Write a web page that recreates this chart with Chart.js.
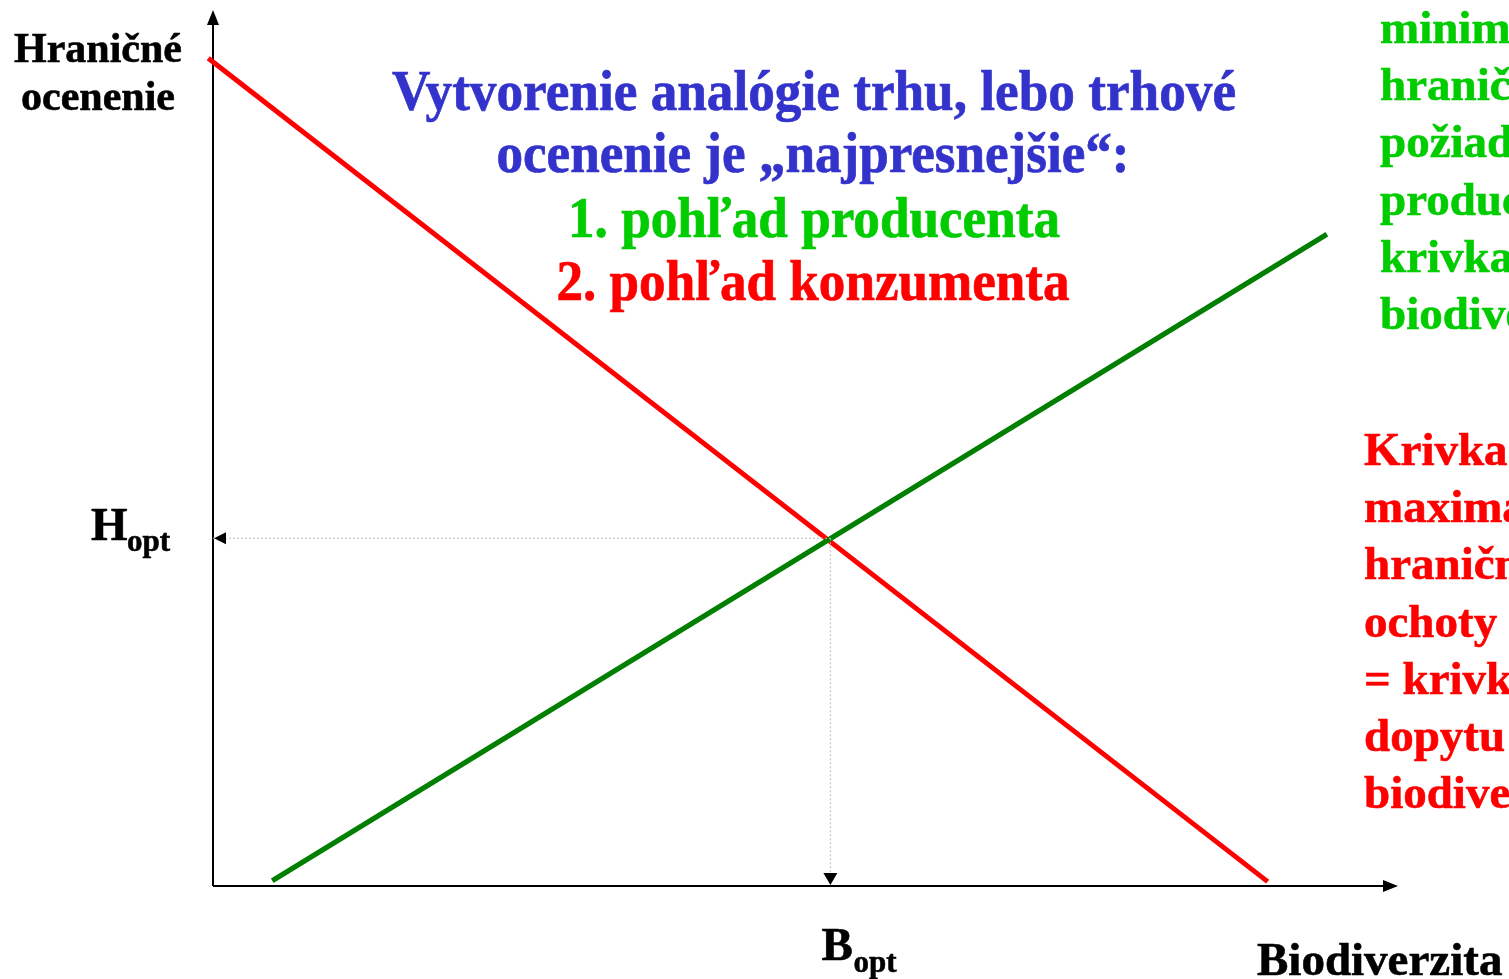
<!DOCTYPE html>
<html>
<head>
<meta charset="utf-8">
<script src="https://cdn.jsdelivr.net/npm/chart.js@4"></script>
<style>
  html, body { margin: 0; padding: 0; background: #fff; }
  #chart { display: block; }
</style>
</head>
<body>
<canvas id="chart" width="1509" height="979"></canvas>
<script>
// Curve end points (x = biodiverzita, y = hraničné ocenenie), 0..100 units
const demandX = [-0.4, 89.0];
const demandY = [94.5, 0.5];
const supplyX = [5.0, 94.0];
const supplyY = [0.6, 74.4];
// Optimum
const bOpt = 52.1;
const hOpt = 39.7;

const titleLines = ['Vytvorenie analógie trhu, lebo trhové', 'ocenenie je „najpresnejšie“:', '1. pohľad producenta', '2. pohľad konzumenta'];
const supplyNote = ['minimálnej', 'hraničnej', 'požiadavky', 'producenta', 'krivka', 'biodiverzity'];
const demandNote = ['Krivka', 'maximálnej', 'hraničnej', 'ochoty', '= krivka', 'dopytu', 'biodiverzity'];

const toPoints = (xs, ys) => xs.map((x, i) => ({ x: x, y: ys[i] }));

const SERIF = '"Liberation Serif", "Times New Roman", serif';

// draw text squeezed to a given width
function fitText(ctx, text, x, y, width, font, color, align) {
    ctx.save();
    ctx.font = font;
    ctx.fillStyle = color;
    ctx.strokeStyle = color;
    ctx.lineWidth = 0.7;
    ctx.textBaseline = 'alphabetic';
    ctx.textAlign = 'left';
    const w = ctx.measureText(text).width;
    const sx = width / w;
    let left = x;
    if (align === 'center') left = x - width / 2;
    ctx.translate(left, y);
    ctx.scale(sx, 1);
    ctx.fillText(text, 0, 0);
    ctx.strokeText(text, 0, 0);
    ctx.restore();
}

function plainText(ctx, text, x, y, font, color, align) {
    ctx.save();
    ctx.font = font;
    ctx.fillStyle = color;
    ctx.strokeStyle = color;
    ctx.lineWidth = 0.6;
    ctx.textBaseline = 'alphabetic';
    ctx.textAlign = align || 'left';
    ctx.fillText(text, x, y);
    ctx.strokeText(text, x, y);
    ctx.restore();
}

function triangle(ctx, p1, p2, p3) {
    ctx.beginPath();
    ctx.moveTo(p1[0], p1[1]);
    ctx.lineTo(p2[0], p2[1]);
    ctx.lineTo(p3[0], p3[1]);
    ctx.closePath();
    ctx.fill();
}

const axesPlugin = {
    id: 'axesPlugin',
    beforeDatasetsDraw(chart) {
        const ctx = chart.ctx;
        const xs = chart.scales.x, ys = chart.scales.y;
        const x0 = xs.getPixelForValue(0), x1 = xs.getPixelForValue(100);
        const y0 = ys.getPixelForValue(0), y1 = ys.getPixelForValue(100);
        ctx.save();
        ctx.strokeStyle = '#000';
        ctx.fillStyle = '#000';
        ctx.lineWidth = 2;
        ctx.beginPath();
        ctx.moveTo(x0, y0);
        ctx.lineTo(x0, y1 + 8);
        ctx.moveTo(x0, y0);
        ctx.lineTo(x1 - 8, y0);
        ctx.stroke();
        // axis arrows
        triangle(ctx, [x0, y1], [x0 - 6, y1 + 15], [x0 + 6, y1 + 15]);
        triangle(ctx, [x1, y0], [x1 - 15, y0 - 6], [x1 - 15, y0 + 6]);
        ctx.restore();
    },
    afterDatasetsDraw(chart) {
        const ctx = chart.ctx;
        const xs = chart.scales.x, ys = chart.scales.y;
        const x0 = xs.getPixelForValue(0);
        const y0 = ys.getPixelForValue(0);
        const bx = xs.getPixelForValue(bOpt);
        const hy = ys.getPixelForValue(hOpt);
        ctx.save();
        ctx.fillStyle = '#000';
        // arrow tips of the guide lines
        triangle(ctx, [x0 + 1, hy], [x0 + 13, hy - 6], [x0 + 13, hy + 6]);
        triangle(ctx, [bx, y0 - 1], [bx - 7, y0 - 13], [bx + 7, y0 - 13]);
        ctx.restore();

        // axis labels
        const lab = 'bold 42px ' + SERIF;
        plainText(ctx, 'Hraničné', 98, 62, lab, '#000', 'center');
        plainText(ctx, 'ocenenie', 98, 110, lab, '#000', 'center');
        plainText(ctx, 'H', x0 - 122, hy + 2, 'bold 47px ' + SERIF, '#000');
        plainText(ctx, 'opt', x0 - 86, hy + 13, 'bold 31px ' + SERIF, '#000');
        plainText(ctx, 'B', bx - 9, 960, 'bold 47px ' + SERIF, '#000');
        plainText(ctx, 'opt', bx + 23, 972, 'bold 31px ' + SERIF, '#000');
        plainText(ctx, 'Biodiverzita', 1257, 975, 'bold 47px ' + SERIF, '#000');

        // title block
        const tf = 'bold 56px ' + SERIF;
        fitText(ctx, titleLines[0], 814, 110, 844, tf, '#3333CC', 'center');
        fitText(ctx, titleLines[1], 813, 172, 633, tf, '#3333CC', 'center');
        fitText(ctx, titleLines[2], 814, 237, 492, tf, '#00CC00', 'center');
        fitText(ctx, titleLines[3], 813, 300, 513, tf, '#FF0000', 'center');

        // side notes (run off the right edge)
        const nf = 'bold 47px ' + SERIF;
        supplyNote.forEach((t, i) => plainText(ctx, t, 1380, 43 + i * 57.2, nf, '#00CC00'));
        demandNote.forEach((t, i) => plainText(ctx, t, 1364, 465 + i * 57.2, nf, '#FF0000'));
    }
};

new Chart(document.getElementById('chart'), {
    type: 'scatter',
    data: {
        datasets: [
            {
                label: 'guide H',
                data: [{ x: 0, y: hOpt }, { x: bOpt, y: hOpt }],
                showLine: true,
                borderColor: '#BBBBBB',
                borderWidth: 1,
                borderDash: [2, 2],
                pointRadius: 0
            },
            {
                label: 'guide B',
                data: [{ x: bOpt, y: hOpt }, { x: bOpt, y: 0 }],
                showLine: true,
                borderColor: '#BBBBBB',
                borderWidth: 1,
                borderDash: [2, 2],
                pointRadius: 0
            },
            {
                label: 'ponuka',
                data: toPoints(supplyX, supplyY),
                showLine: true,
                borderColor: '#007F00',
                borderWidth: 5,
                pointRadius: 0,
                clip: false
            },
            {
                label: 'dopyt',
                data: toPoints(demandX, demandY),
                showLine: true,
                borderColor: '#FF0000',
                borderWidth: 5,
                pointRadius: 0,
                clip: false
            }
        ]
    },
    options: {
        responsive: false,
        animation: false,
        layout: { padding: { left: 213, right: 111, top: 10, bottom: 93 } },
        plugins: {
            legend: { display: false },
            tooltip: { enabled: false }
        },
        scales: {
            x: { type: 'linear', min: 0, max: 100, display: false },
            y: { type: 'linear', min: 0, max: 100, display: false }
        }
    },
    plugins: [axesPlugin]
});
</script>
</body>
</html>
